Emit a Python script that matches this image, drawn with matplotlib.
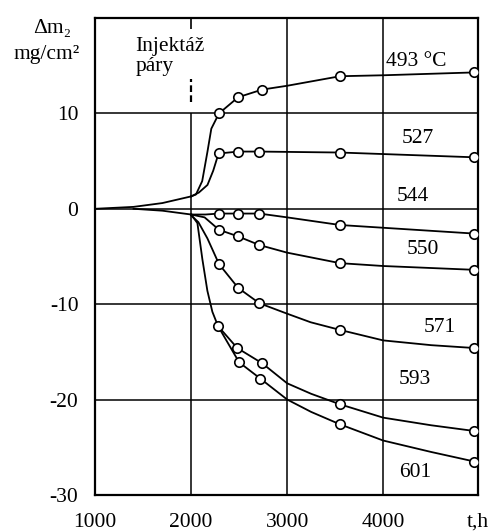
import numpy as np
import matplotlib
matplotlib.use('Agg')
import matplotlib.pyplot as plt

plt.rcParams['font.family'] = ['Liberation Serif', 'DejaVu Serif']
plt.rcParams['axes.unicode_minus'] = False

# time axis in hours, mass change in mg/cm2
injection_time = 2000

# common start before steam injection
lead_up_t = [1000, 1400, 1700, 2000]
lead_up_pos = [0.0, 0.2, 0.6, 1.3]
lead_down_t = [1400, 1700, 2000]
lead_down_neg = [0.0, -0.2, -0.6]

# curve lines
line_493_t = [2000, 2050, 2115, 2170, 2210, 2290, 2490, 2740, 3000, 3550, 4000, 4950]
line_493_m = [1.3, 1.5, 2.9, 6.0, 8.4, 10.0, 11.7, 12.5, 12.9, 13.9, 14.0, 14.3]
line_527_t = [2000, 2080, 2170, 2230, 2270, 2290, 2490, 2710, 3550, 4950]
line_527_m = [1.3, 1.7, 2.5, 4.0, 5.3, 5.8, 6.0, 6.0, 5.9, 5.4]
line_544_t = [2000, 2150, 2290, 2490, 2710, 3000, 3550, 4950]
line_544_m = [-0.6, -0.6, -0.5, -0.5, -0.5, -0.9, -1.7, -2.6]
line_550_t = [2000, 2140, 2290, 2490, 2710, 3000, 3550, 4000, 4950]
line_550_m = [-0.6, -0.9, -2.2, -2.9, -3.8, -4.6, -5.7, -6.0, -6.4]
line_571_t = [2000, 2075, 2169, 2232, 2290, 2490, 2710, 3000, 3245, 3550, 4000, 4500, 4950]
line_571_m = [-0.7, -1.4, -3.1, -4.5, -5.8, -8.3, -9.9, -11.0, -11.9, -12.7, -13.8, -14.3, -14.6]
line_593_t = [2000, 2065, 2117, 2169, 2221, 2280, 2480, 2740, 3000, 3250, 3550, 4000, 4500, 4950]
line_593_m = [-0.6, -1.5, -5.3, -8.6, -10.8, -12.3, -14.6, -16.2, -18.3, -19.4, -20.5, -21.9, -22.7, -23.3]
line_601_t = [2280, 2500, 2720, 3000, 3250, 3550, 4000, 4500, 4950]
line_601_m = [-12.3, -16.1, -17.8, -20.0, -21.3, -22.6, -24.3, -25.5, -26.5]

# measured points (circles)
pts_493_t = [2290, 2490, 2740, 3550, 4950]
pts_493_m = [10.0, 11.7, 12.5, 13.9, 14.3]
pts_527_t = [2290, 2490, 2710, 3550, 4950]
pts_527_m = [5.8, 6.0, 6.0, 5.9, 5.4]
pts_544_t = [2290, 2490, 2710, 3550, 4950]
pts_544_m = [-0.5, -0.5, -0.5, -1.7, -2.6]
pts_550_t = [2290, 2490, 2710, 3550, 4950]
pts_550_m = [-2.2, -2.9, -3.8, -5.7, -6.4]
pts_571_t = [2290, 2490, 2710, 3550, 4950]
pts_571_m = [-5.8, -8.3, -9.9, -12.7, -14.6]
pts_593_t = [2280, 2480, 2740, 3550, 4950]
pts_593_m = [-12.3, -14.6, -16.2, -20.5, -23.3]
pts_601_t = [2500, 2720, 3550, 4950]
pts_601_m = [-16.1, -17.8, -22.6, -26.5]

curve_labels = ['493 °C', '527', '544', '550', '571', '593', '601']
label_pos = [(4030, 15.4, 'left'), (4360, 7.4, 'center'), (4310, 1.3, 'center'),
             (4410, -4.3, 'center'), (4590, -12.4, 'center'), (4330, -17.9, 'center'),
             (4330, -27.6, 'center')]

x_ticks = [1000, 2000, 3000, 4000]
y_ticks = [10, 0, -10, -20, -30]

fig = plt.figure(figsize=(4.93, 5.31), dpi=100)
ax = fig.add_axes([0.193, 0.068, 0.777, 0.898])
ax.set_xlim(1000, 4990)
ax.set_ylim(-30, 20)

grid_kw = dict(color='black', lw=1.1, zorder=1)
for y in [10, 0, -10, -20]:
    ax.axhline(y, **grid_kw)
for x in [3000, 4000]:
    ax.axvline(x, **grid_kw)
ax.vlines(injection_time, -30, 10, **grid_kw)
ax.vlines(injection_time, 11.2, 13.6, color='black', lw=1.6, linestyles=(0, (3, 1.5)))
ax.vlines(injection_time, 18.8, 20, color='black', lw=1.2)

line_kw = dict(color='black', lw=1.3, zorder=2)
ax.plot(lead_up_t, lead_up_pos, **line_kw)
ax.plot(lead_down_t, lead_down_neg, **line_kw)
for t, m in [(line_493_t, line_493_m), (line_527_t, line_527_m), (line_544_t, line_544_m),
             (line_550_t, line_550_m), (line_571_t, line_571_m), (line_593_t, line_593_m),
             (line_601_t, line_601_m)]:
    ax.plot(t, m, **line_kw)

mk_kw = dict(ls='none', marker='o', ms=6.8, mfc='white', mec='black', mew=1.2, zorder=3)
for t, m in [(pts_493_t, pts_493_m), (pts_527_t, pts_527_m), (pts_544_t, pts_544_m),
             (pts_550_t, pts_550_m), (pts_571_t, pts_571_m), (pts_593_t, pts_593_m),
             (pts_601_t, pts_601_m)]:
    ax.plot(t, m, **mk_kw)

fs = 15.5
for lab, (x, y, ha) in zip(curve_labels, label_pos):
    ax.text(x, y, lab, fontsize=fs, ha=ha, va='center')

ax.text(1420, 18.0, 'Injektáž\npáry', fontsize=fs, ha='left', va='top', linespacing=1.05)

ax.set_xticks(x_ticks + [4990])
ax.set_xticklabels([str(v) for v in x_ticks] + ['t,h'], fontsize=fs)
ax.set_yticks(y_ticks)
ax.set_yticklabels([str(v) for v in y_ticks], fontsize=fs)
ax.tick_params(length=0)
ax.tick_params(axis='x', pad=13)
ax.tick_params(axis='y', pad=12)
for s in ax.spines.values():
    s.set_linewidth(1.6)

fig.text(0.105, 0.947, 'Δm₂', fontsize=fs, ha='center', va='center')
fig.text(0.095, 0.897, 'mg/cm²', fontsize=fs, ha='center', va='center')

fig.savefig('out.png', dpi=100, facecolor='white')
